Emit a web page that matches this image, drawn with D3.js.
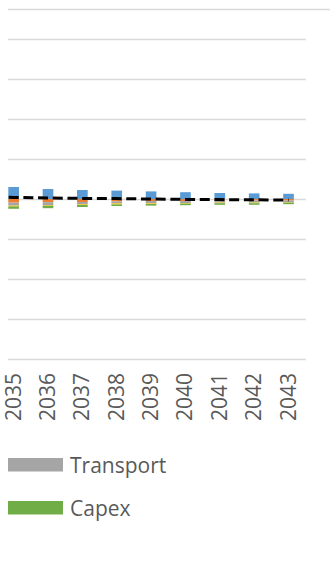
<!DOCTYPE html>
<html>
<head>
<meta charset="utf-8">
<script src="https://cdn.jsdelivr.net/npm/d3@7"></script>
<style>
  html, body { margin: 0; padding: 0; background: #fff; }
  svg { display: block; }
  text { font-family: "Open Sans", "Noto Sans", sans-serif; fill: #595959; }
</style>
</head>
<body>
<script>
// Years on the category axis (2034 sits just left of the visible area)
const years = ["2034", "2035", "2036", "2037", "2038", "2039", "2040", "2041", "2042", "2043"];

// Positive stack
const revenue   = [33, 30, 25, 22.5, 21, 19, 17, 15, 14, 13];
// Negative stack, from the zero line downward
const opex      = [-9, -9, -8, -7.5, -6, -5, -5, -4, -4, -4];
const transport = [-8, -7.5, -7.5, -6, -5, -6, -5, -5, -5, -4];
const royalty   = [-2, -2, -1.5, -1.5, -2.5, -1.5, -1.5, -1.5, -1.5, -1];
const capex     = [-6, -6, -6, -5, -4, -4, -4, -4, -4, -4];
// Net result shown as the dashed line
const net       = [5, 4, 2.5, 1.5, 1, 0, -1, -1.5, -2, -2.5];

const yTicks = [-400, -300, -200, -100, 0, 100, 200, 300, 400];

const legendItems = [
  { name: "Transport", color: "#A5A5A5" },
  { name: "Capex",     color: "#70AD47" }
];

const W = 330, H = 583;
const svg = d3.select("body").append("svg").attr("width", W).attr("height", H);

svg.append("defs").append("clipPath").attr("id", "view")
  .append("rect").attr("x", 8).attr("y", 0).attr("width", W - 8).attr("height", H);

const root = svg.append("g").attr("clip-path", "url(#view)");

const x = d3.scaleBand().domain(years).range([-37.9, 305.7]).paddingInner(0.69).paddingOuter(0.345);
const y = d3.scaleLinear().domain([-400, 400]).range([359, 39]);
const cx = d => x(d) + x.bandwidth() / 2;

// Top frame line
root.append("line")
  .attr("x1", 8).attr("x2", W).attr("y1", 9.5).attr("y2", 9.5)
  .attr("stroke", "#D9D9D9").attr("stroke-width", 1.3);

// Horizontal gridlines
root.append("g").selectAll("line").data(yTicks).join("line")
  .attr("x1", -37.9).attr("x2", 305.7)
  .attr("y1", d => Math.round(y(d)) + 0.5).attr("y2", d => Math.round(y(d)) + 0.5)
  .attr("stroke", "#D9D9D9").attr("stroke-width", 1.3);

// Stacked bars
const negSeries = [
  { values: opex,      color: "#ED7D31" },
  { values: transport, color: "#A5A5A5" },
  { values: royalty,   color: "#FFC000" },
  { values: capex,     color: "#70AD47" }
];

const rects = [];
years.forEach((yr, i) => {
  rects.push({ yr, y0: 0, y1: revenue[i], color: "#5B9BD5" });
  let base = 0;
  negSeries.forEach(s => {
    const top = base, bottom = base + s.values[i];
    rects.push({ yr, y0: bottom, y1: top, color: s.color });
    base = bottom;
  });
});

root.append("g").selectAll("rect").data(rects).join("rect")
  .attr("x", d => x(d.yr))
  .attr("width", x.bandwidth())
  .attr("y", d => y(d.y1))
  .attr("height", d => y(d.y0) - y(d.y1))
  .attr("fill", d => d.color);

// Net line
const line = d3.line()
  .x((d, i) => cx(years[i]))
  .y(d => y(d));

root.append("path")
  .datum(net)
  .attr("d", line)
  .attr("fill", "none")
  .attr("stroke", "#000")
  .attr("stroke-width", 3)
  .attr("stroke-dasharray", "10,4.7");

// Category labels, rotated (only the years whose slot is on the page)
svg.append("g").selectAll("text").data(years.filter(d => cx(d) > 0)).join("text")
  .attr("transform", d => `translate(${cx(d) + 7},373) rotate(-90)`)
  .attr("text-anchor", "end")
  .attr("font-size", 21)
  .text(d => d);

// Legend
const leg = root.append("g").selectAll("g").data(legendItems).join("g")
  .attr("transform", (d, i) => `translate(0,${458 + i * 43})`);
leg.append("rect").attr("x", 8).attr("y", 0).attr("width", 55).attr("height", 13.5)
  .attr("fill", d => d.color);
leg.append("text").attr("x", 70).attr("y", 14.5).attr("font-size", 21).text(d => d.name);
</script>
</body>
</html>
